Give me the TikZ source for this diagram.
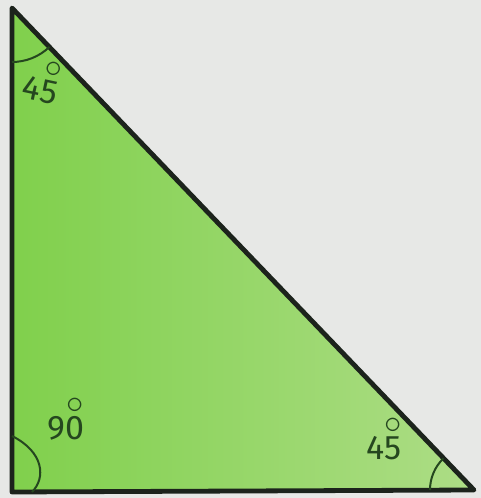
\documentclass[tikz,border=0pt]{standalone}
\usepackage{fontspec}
\setsansfont{Fira Sans}
\usepackage{tikz}
\definecolor{paper}{HTML}{E7E8E6}
\definecolor{leafL}{HTML}{80D04C}
\definecolor{leafR}{HTML}{ADDD86}
\definecolor{ink}{HTML}{1C231C}
\definecolor{pen}{HTML}{25471F}
\newcommand{\angdeg}[2]{#1\ooalign{#2\cr\hidewidth\raisebox{1.45ex}{$\circ$}\hidewidth}}

\begin{document}
\begin{tikzpicture}[
  x=0.5pt, y=0.5pt,
  edge/.style={draw=ink, line width=2.4pt, line join=round, line cap=round},
  arcmark/.style={draw=pen, line width=1pt},
  lbl/.style={text=pen, font=\sffamily\fontsize{17}{19}\selectfont, inner sep=0pt},
]

% paper
\fill[paper] (0,0) rectangle (481,498);
\useasboundingbox (0,0) rectangle (481,498);

% corners
\coordinate (top) at (12,490);
\coordinate (bl)  at (12,6);
\coordinate (br)  at (474,8);

% green body
\shade[left color=leafL, right color=leafR] (top) -- (bl) -- (br) -- cycle;
\draw[edge] (top) -- (bl) -- (br) -- cycle;

% angle arcs
\draw[arcmark] (top) ++(270:54) arc[start angle=270, end angle=314, radius=54];
\draw[arcmark] (12,62) .. controls (44,46) and (46,20) .. (32,6);
\draw[arcmark] (br) ++(180:44) arc[start angle=180, end angle=134, radius=44];

% labels
\node[lbl, rotate=-12] (angA) at (40,408) {\angdeg{4}{5}};
\node[lbl] (angB) at (66,70) {\angdeg{9}{0}};
\node[lbl] (angC) at (384,50) {\angdeg{4}{5}};

\end{tikzpicture}
\end{document}
